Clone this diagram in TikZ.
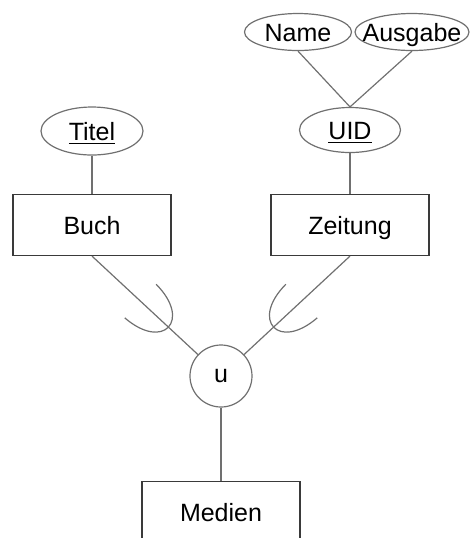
\documentclass[tikz,border=0pt]{standalone}
\usepackage{fontspec}
\setmainfont{Liberation Sans}
\usetikzlibrary{calc, shapes.geometric}
\definecolor{cline}{HTML}{707070}
\definecolor{cedge}{HTML}{3A3A3A}
\newcommand{\attrtext}[1]{\makebox[0pt]{#1}}
\tikzset{
  every picture/.style={line width=0.6pt, font=\fontsize{12.5}{15}\selectfont},
  entity/.style={draw=cedge, rectangle, minimum width=79pt, minimum height=30.5pt, inner sep=0pt,
    text height=9pt, text depth=0pt},
  attr/.style={draw=cline, ellipse, inner sep=0pt, minimum width=#1, text height=9pt, text depth=0pt},
  attr/.default=51pt,
  isa/.style={draw=cline, circle, minimum size=31pt, inner sep=0pt},
  link/.style={draw=cline},
  cup/.style={draw=cline},
}

\begin{document}
\begin{tikzpicture}[x=0.5pt, y=-0.5pt]
  \useasboundingbox (0,0) rectangle (470,538);
  \clip (0,0) rectangle (470,538);
  % attributes
  \node[attr=53.5pt, minimum height=18.5pt] (name) at (298,32) {\attrtext{Name}};
  \node[attr=57pt, minimum height=18.5pt] (ausgabe) at (412,32) {\attrtext{Ausgabe}};
  \node[attr=50.5pt, minimum height=22.5pt] (uid) at (350,130) {\attrtext{\underline{UID}}};
  \node[attr, minimum height=24pt] (titel) at (92,131) {\attrtext{\underline{Titel}}};
  % entities
  \node[entity] (buch) at (92,225) {Buch};
  \node[entity] (zeitung) at (350,225) {Zeitung};
  \node[isa] (u) at (221,376) {u};
  \node[entity] (medien) at (221,512) {Medien};
  % links
  \draw[link] (name.south) -- (uid.north);
  \draw[link] (ausgabe.south) -- (uid.north);
  \draw[link] (titel) -- (buch);
  \draw[link] (uid) -- (zeitung);
  \draw[link] (buch.south) -- coordinate[pos=0.72] (cupL) (u);
  \draw[link] (zeitung.south) -- coordinate[pos=0.72] (cupR) (u);
  \draw[link] (u) -- (medien);
  % subset cups
  \draw[cup, shift={(cupL)}, rotate=137] (38,23) .. controls (-13,21) and (-13,-21) .. (38,-23);
  \draw[cup, shift={(cupR)}, rotate=43] (38,23) .. controls (-13,21) and (-13,-21) .. (38,-23);
\end{tikzpicture}
\end{document}
